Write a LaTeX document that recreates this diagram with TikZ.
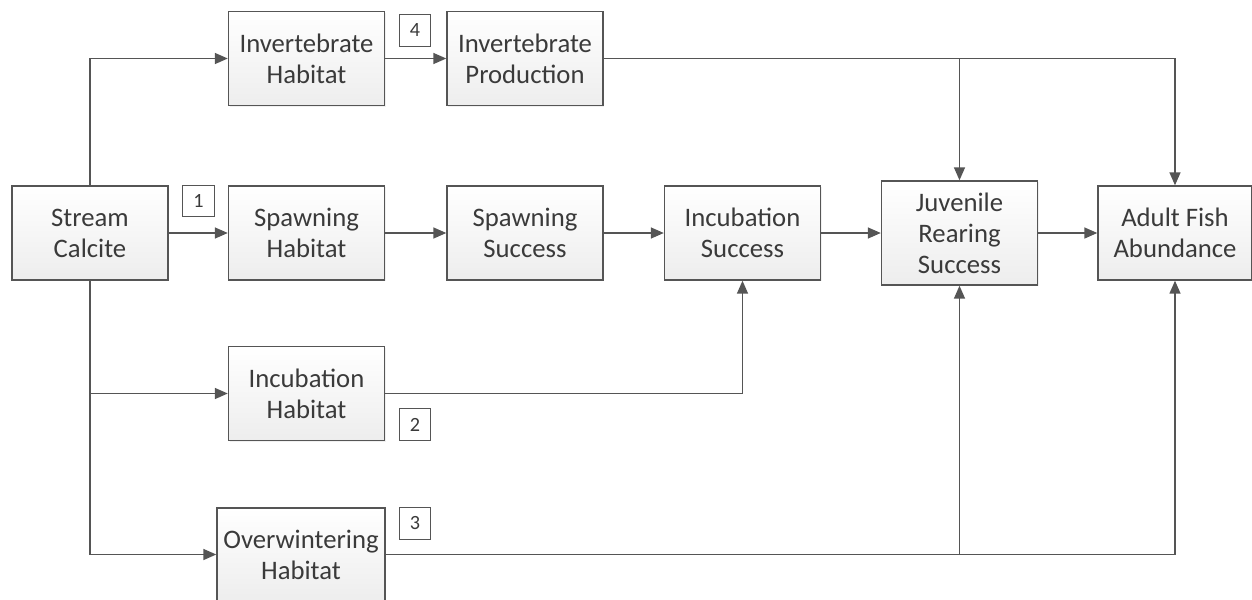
\documentclass[tikz,border=0pt]{standalone}
\usepackage{fontspec}
\setmainfont{Carlito}
\usepackage{tikz}
\usetikzlibrary{arrows.meta,shadows}
\definecolor{edgegray}{HTML}{555555}
\definecolor{textgray}{HTML}{3A3A3A}
\tikzset{
	block/.style={draw=edgegray, line width=0.8pt, top color=white, bottom color=gray!14,
		drop shadow={opacity=0.12, shadow xshift=0.6pt, shadow yshift=-0.6pt},
		minimum width=3.12cm, minimum height=1.88cm, align=center, text=textgray,
		font=\fontsize{15.2}{17.6}\selectfont, inner sep=0pt},
	tag/.style={draw=edgegray, line width=0.7pt, fill=white, minimum size=0.63cm,
		inner sep=0pt, text=textgray, font=\fontsize{11.5}{13}\selectfont},
	link/.style={draw=edgegray, line width=0.85pt, -{Triangle[length=0.26cm, width=0.22cm]}},
	wire/.style={draw=edgegray, line width=0.85pt}
}
\begin{document}
\begin{tikzpicture}[x=0.02cm, y=-0.02cm]
		%%%%% START %%%%%
		\useasboundingbox (0, 0) rectangle (1252, 599);
		
		\node[block] (calcite) at (90, 233) {Stream\\Calcite};
		
		\node[block] (invhab) at (306.5, 58.5) {Invertebrate\\Habitat};
		\node[block] (invprod) at (525, 58.5) {Invertebrate\\Production};
		
		\node[block] (spawnhab) at (306.5, 233) {Spawning\\Habitat};
		\node[block] (spawnsucc) at (525, 233) {Spawning\\Success};
		\node[block] (incsucc) at (742.5, 233) {Incubation\\Success};
		\node[block, minimum height=2.08cm] (juvenile) at (959.5, 233) {Juvenile\\Rearing\\Success};
		\node[block, minimum width=3.08cm] (adult) at (1175, 233) {Adult Fish\\Abundance};
		
		\node[block] (inchab) at (306.5, 393.5) {Incubation\\Habitat};
		\node[block, minimum width=3.36cm, minimum height=1.86cm] (overwinter) at (301, 554.5) {Overwintering\\Habitat};
		
		\node[tag] (tagone) at (198.5, 201) {1};
		\node[tag] (tagfour) at (415, 30.5) {4};
		\node[tag] (tagtwo) at (415, 424.5) {2};
		\node[tag] (tagthree) at (415, 523.5) {3};
		
		% from the calcite box
		\draw[link] (calcite.north) |- (invhab.west);
		\draw[link] (calcite.east) -- (spawnhab.west);
		\draw[link] (calcite.south) |- (inchab.west);
		\draw[link] (calcite.south) |- (overwinter.west);
		
		% top row
		\draw[link] (invhab.east) -- (invprod.west);
		\draw[link] (invprod.east) -| (adult.north);
		\draw[link] (invprod.east -| juvenile.north) -- (juvenile.north);
		
		% middle row
		\draw[link] (spawnhab.east) -- (spawnsucc.west);
		\draw[link] (spawnsucc.east) -- (incsucc.west);
		\draw[link] (incsucc.east) -- (juvenile.west);
		\draw[link] (juvenile.east) -- (adult.west);
		
		% lower rows
		\draw[link] (inchab.east) -| (incsucc.south);
		\draw[link] (overwinter.east) -| (adult.south);
		\draw[link] (overwinter.east -| juvenile.south) -- (juvenile.south);
		
		%%%%% END %%%%%
	\end{tikzpicture}
\end{document}
